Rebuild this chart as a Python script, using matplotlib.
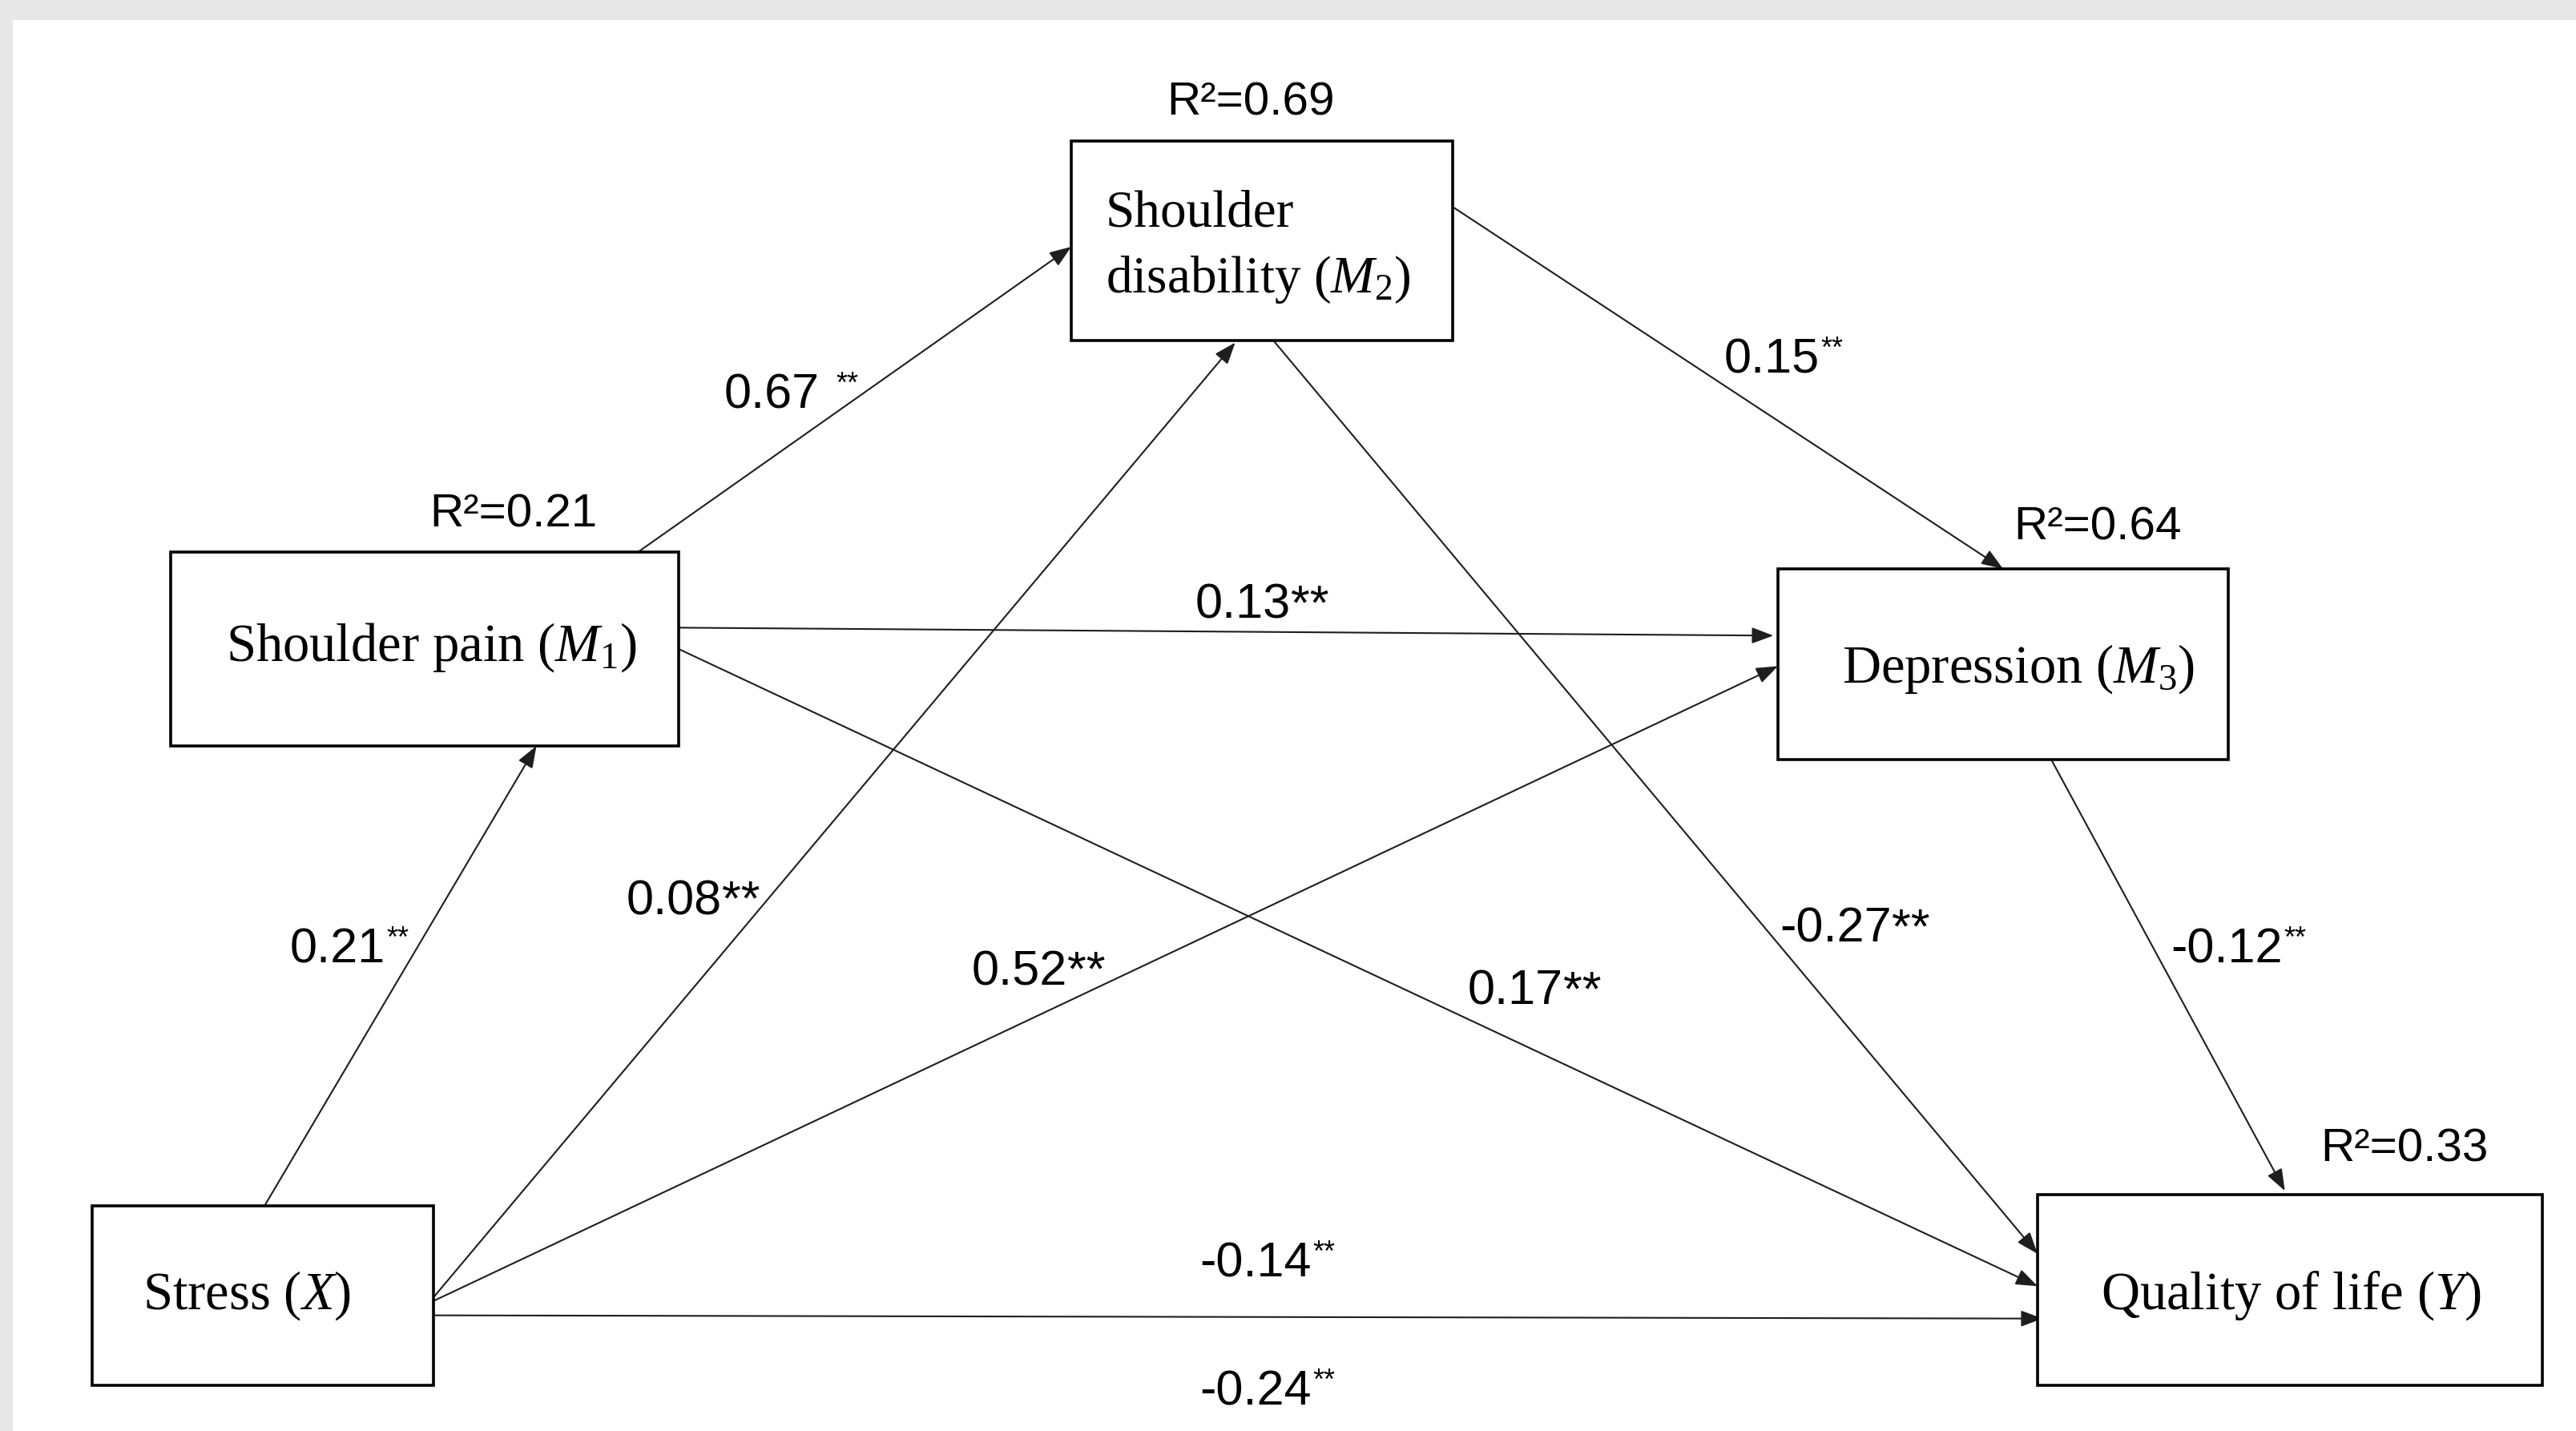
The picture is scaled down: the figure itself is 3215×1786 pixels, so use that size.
"""Serial mediation path diagram: stress -> quality of life"""

import matplotlib
matplotlib.use('Agg')
import matplotlib.pyplot as plt
from matplotlib.patches import Rectangle

plt.rcParams['mathtext.fontset'] = 'custom'
plt.rcParams['mathtext.rm'] = 'Liberation Serif'
plt.rcParams['mathtext.it'] = 'Liberation Serif:italic'

# --- data -------------------------------------------------------------
node_keys = ['X', 'M1', 'M2', 'M3', 'Y']
node_labels = [
    r'Stress ($X$)',
    r'Shoulder pain ($M_{\mathit{1}}$)',
    'Shoulder\n' + r'disability ($M_{\mathit{2}}$)',
    r'Depression ($M_{\mathit{3}}$)',
    r'Quality of life ($Y$)',
]
r_squared = [None, 0.21, 0.69, 0.64, 0.33]

edge_src = ['X', 'X', 'X', 'X', 'M1', 'M1', 'M1', 'M2', 'M2', 'M3']
edge_dst = ['M1', 'M2', 'M3', 'Y', 'M2', 'M3', 'Y', 'M3', 'Y', 'Y']
edge_coef = ['0.21', '0.08', '0.52', '-0.14', '0.67', '0.13', '0.17', '0.15', '-0.27', '-0.12']
total_effect = '-0.24'   # X -> Y total effect, printed under the direct path
stars = '**'

# --- layout (pixel coords, y down) -------------------------------------
W, H = 3216, 1786
boxes = {
    'X': (115, 1505, 541, 1729),
    'M1': (213, 689, 847, 931),
    'M2': (1337, 176, 1813, 425),
    'M3': (2219, 710, 2781, 948),
    'Y': (2543, 1491, 3173, 1729),
}
# anchor fractions (fx, fy) on source / target box for each edge
src_anchor = [(0.505, 0.0), (1.0, 0.51), (1.0, 0.53), (1.0, 0.61), (0.92, 0.0),
              (1.0, 0.39), (1.0, 0.50), (1.0, 0.33), (0.53, 1.0), (0.60, 0.97)]
dst_anchor = [(0.72, 1.0), (0.43, 1.01), (0.0, 0.51), (0.01, 0.65), (0.0, 0.53),
              (-0.01, 0.35), (0.0, 0.48), (0.50, 0.0), (0.0, 0.31), (0.49, -0.02)]
# centre of the coefficient number
coef_pos = [(421, 1179), (841, 1118), (1272, 1206), (1567, 1571), (963, 487),
            (1551, 749), (1891, 1231), (2211, 443), (2291, 1153), (2779, 1179)]
coef_small = [True, False, False, True, True, False, False, True, False, True]
coef_gap = [0, 0, 0, 0, 14, 0, 0, 0, 0, 0]
total_pos = (1567, 1731)
r2_pos = {'M1': (641, 636), 'M2': (1561, 123), 'M3': (2618, 652), 'Y': (3001, 1428)}
text_pos = {'X': (308, 1634), 'M1': (538, 825), 'M3': (2519, 852), 'Y': (2859, 1634)}
m2_text_left = 1380
m2_baseline = 365

serif = ['Liberation Serif', 'DejaVu Serif']
sans = ['Liberation Sans', 'DejaVu Sans']
line_color = '#1e1e1e'

fig = plt.figure(figsize=(W / 100, H / 100), dpi=100, facecolor='#e8e8e8')
ax = fig.add_axes([0, 0, 1, 1])
ax.set_xlim(0, W)
ax.set_ylim(H, 0)
ax.axis('off')
ax.add_patch(Rectangle((16, 25), W - 16, H - 25, facecolor='white', edgecolor='none', zorder=0))

# boxes
for key in node_keys:
    x0, y0, x1, y1 = boxes[key]
    ax.add_patch(Rectangle((x0, y0), x1 - x0, y1 - y0, facecolor='white',
                           edgecolor='black', lw=2.6, zorder=2))

# node labels
for key, label in zip(node_keys, node_labels):
    if key == 'M2':
        ax.text(m2_text_left, m2_baseline, label, ha='left', va='baseline',
                fontsize=47, family=serif, linespacing=1.42, zorder=3)
    else:
        x, y = text_pos[key]
        ax.text(x, y, label, ha='center', va='baseline', fontsize=48,
                family=serif, zorder=3)

# R squared
for key, r2 in zip(node_keys, r_squared):
    if r2 is None:
        continue
    x, y = r2_pos[key]
    ax.text(x, y + 21, f'R\u00b2=0.{int(round(r2 * 100)):02d}', ha='center',
            va='baseline', fontsize=42, family=sans, zorder=3)


def anchor(key, frac):
    x0, y0, x1, y1 = boxes[key]
    return x0 + frac[0] * (x1 - x0), y0 + frac[1] * (y1 - y0)


# paths
for s, d, sa, da in zip(edge_src, edge_dst, src_anchor, dst_anchor):
    p0 = anchor(s, sa)
    p1 = anchor(d, da)
    ax.annotate('', xy=p1, xytext=p0,
                arrowprops=dict(arrowstyle='-|>,head_length=0.75,head_width=0.28',
                                color=line_color, lw=1.5, shrinkA=0, shrinkB=0,
                                mutation_scale=22),
                zorder=1)


def coef_label(pos, value, small, gap):
    x, y = pos
    t = ax.text(x, y + 23, value, ha='center', va='baseline', fontsize=44,
                family=sans, zorder=3)
    if small:
        ax.annotate(stars, xy=(1, 1), xycoords=t, xytext=(1 + gap, 2),
                    textcoords='offset points', ha='left', va='top',
                    fontsize=26, family=sans, zorder=3)
    else:
        ax.annotate(stars, xy=(1, 0), xycoords=t, xytext=(0, 0),
                    textcoords='offset points', ha='left', va='bottom',
                    fontsize=44, family=sans, zorder=3)


for pos, val, small, gap in zip(coef_pos, edge_coef, coef_small, coef_gap):
    coef_label(pos, val, small, gap)
coef_label(total_pos, total_effect, True, 0)

fig.savefig('out.png', dpi=100, facecolor=fig.get_facecolor())
plt.close(fig)
